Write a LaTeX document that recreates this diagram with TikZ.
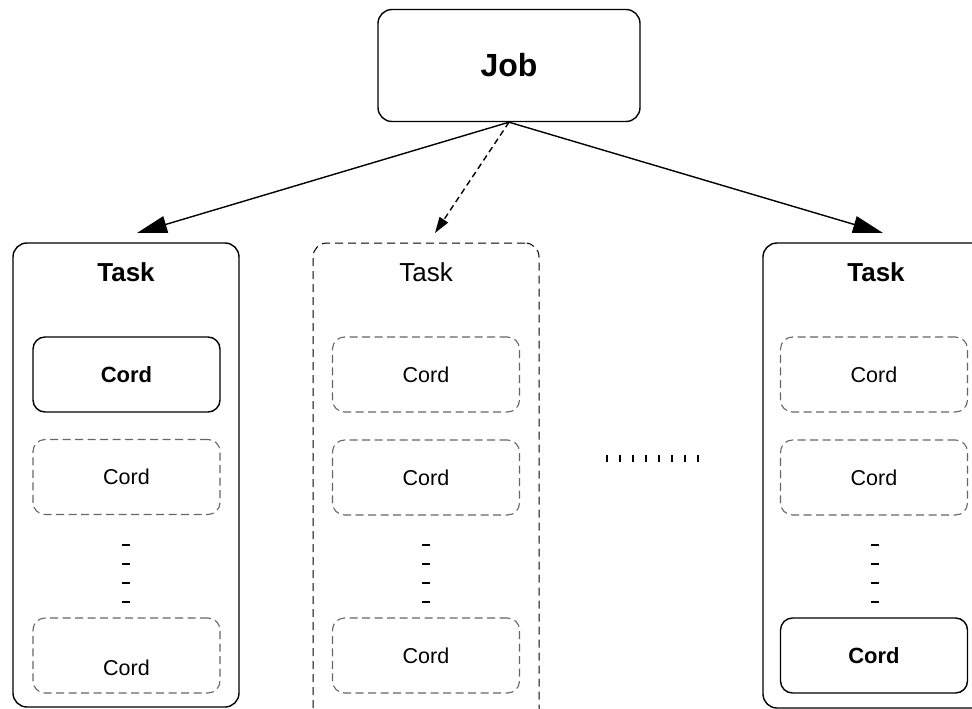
\documentclass[tikz,border=0pt]{standalone}
\usepackage{fontspec}
\setmainfont{Liberation Sans}
\usetikzlibrary{arrows.meta}
\begin{document}
\begin{tikzpicture}[x=1pt,y=-1pt,
  solidbox/.style={draw=black, line width=1.4pt, rounded corners=14pt, rectangle, inner sep=0pt},
  dashtask/.style={draw=black, line width=1pt, dash pattern=on 8pt off 5pt, rounded corners=14pt, rectangle, inner sep=0pt},
  dashcord/.style={draw=black!60, line width=1.1pt, dash pattern=on 8pt off 4.5pt, rounded corners=12pt, rectangle, inner sep=0pt, minimum width=187pt, minimum height=75pt},
  solidcord/.style={solidbox, rounded corners=12pt, minimum width=187pt, minimum height=75pt},
  taskbox/.style={minimum width=226pt},
  jobfont/.style={font=\fontsize{32}{38}\selectfont\bfseries},
  taskbold/.style={font=\fontsize{26}{31}\selectfont\bfseries, inner sep=0pt},
  tasknorm/.style={font=\fontsize{26}{31}\selectfont, inner sep=0pt},
  cordbold/.style={font=\fontsize{22}{26}\selectfont\bfseries},
  cordnorm/.style={font=\fontsize{21.5}{26}\selectfont},
  cordtxt/.style={font=\fontsize{21.5}{26}\selectfont, inner sep=0pt},
  arr/.style={line width=1.4pt, -{Triangle[length=30pt,width=17pt]}},
  darr/.style={line width=1.4pt, dash pattern=on 6pt off 4pt, -{Triangle[length=16pt,width=10pt]}},
  vdots/.style={line width=8pt, dash pattern=on 2pt off 17pt},
]
\useasboundingbox (0,0) rectangle (972,709);
\clip (0,0) rectangle (972,709);

% Job
\node[solidbox, minimum width=262pt, minimum height=112pt, jobfont] (job) at (509,65.5) {Job};

% Task boxes
\node[solidbox, taskbox, minimum height=464pt] (lt) at (126,475) {};
\node[dashtask, taskbox, minimum height=480pt] (mt) at (426,483) {};
\node[solidbox, taskbox, minimum height=465pt] (rt) at (876,475.5) {};

\node[taskbold] (ltl) at (126,272.5) {Task};
\node[tasknorm] (mtl) at (426,272.5) {Task};
\node[taskbold] (rtl) at (876,272.5) {Task};

% arrows
\coordinate (la) at (137,233);
\coordinate (ma) at (435,233);
\coordinate (ra) at (883,233);
\draw[arr] (job.south) -- (la);
\draw[darr] (job.south) -- (ma);
\draw[arr] (job.south) -- (ra);

% left cords
\node[solidcord, cordbold] (l1) at (126.5,374.5) {Cord};
\node[dashcord, cordnorm] (l2) at (126.5,477) {Cord};
\node[dashcord] (l3) at (126.5,655.5) {};
\node[cordtxt] (l3t) at ([yshift=-12pt]l3.center) {Cord};
\coordinate (ld1) at (126,544);
\coordinate (ld2) at (126,603);
\draw[vdots] (ld1) -- (ld2);

% middle cords
\node[dashcord, cordnorm] (m1) at (426,374.5) {Cord};
\node[dashcord, cordnorm] (m2) at (426,477.5) {Cord};
\node[dashcord, cordnorm] (m3) at (426,655.5) {Cord};
\coordinate (md1) at (426,544);
\coordinate (md2) at (426,603);
\draw[vdots] (md1) -- (md2);

% right cords
\node[dashcord, cordnorm] (r1) at (874,374.5) {Cord};
\node[dashcord, cordnorm] (r2) at (874,477.5) {Cord};
\node[solidcord, cordbold] (r3) at (874,655.5) {Cord};
\coordinate (rd1) at (875,544);
\coordinate (rd2) at (875,603);
\draw[vdots] (rd1) -- (rd2);

% horizontal ellipsis
\coordinate (e1) at (606,458.5);
\coordinate (e2) at (699,458.5);
\draw[line width=7pt, dash pattern=on 2pt off 11pt] (e1) -- (e2);
\end{tikzpicture}
\end{document}
